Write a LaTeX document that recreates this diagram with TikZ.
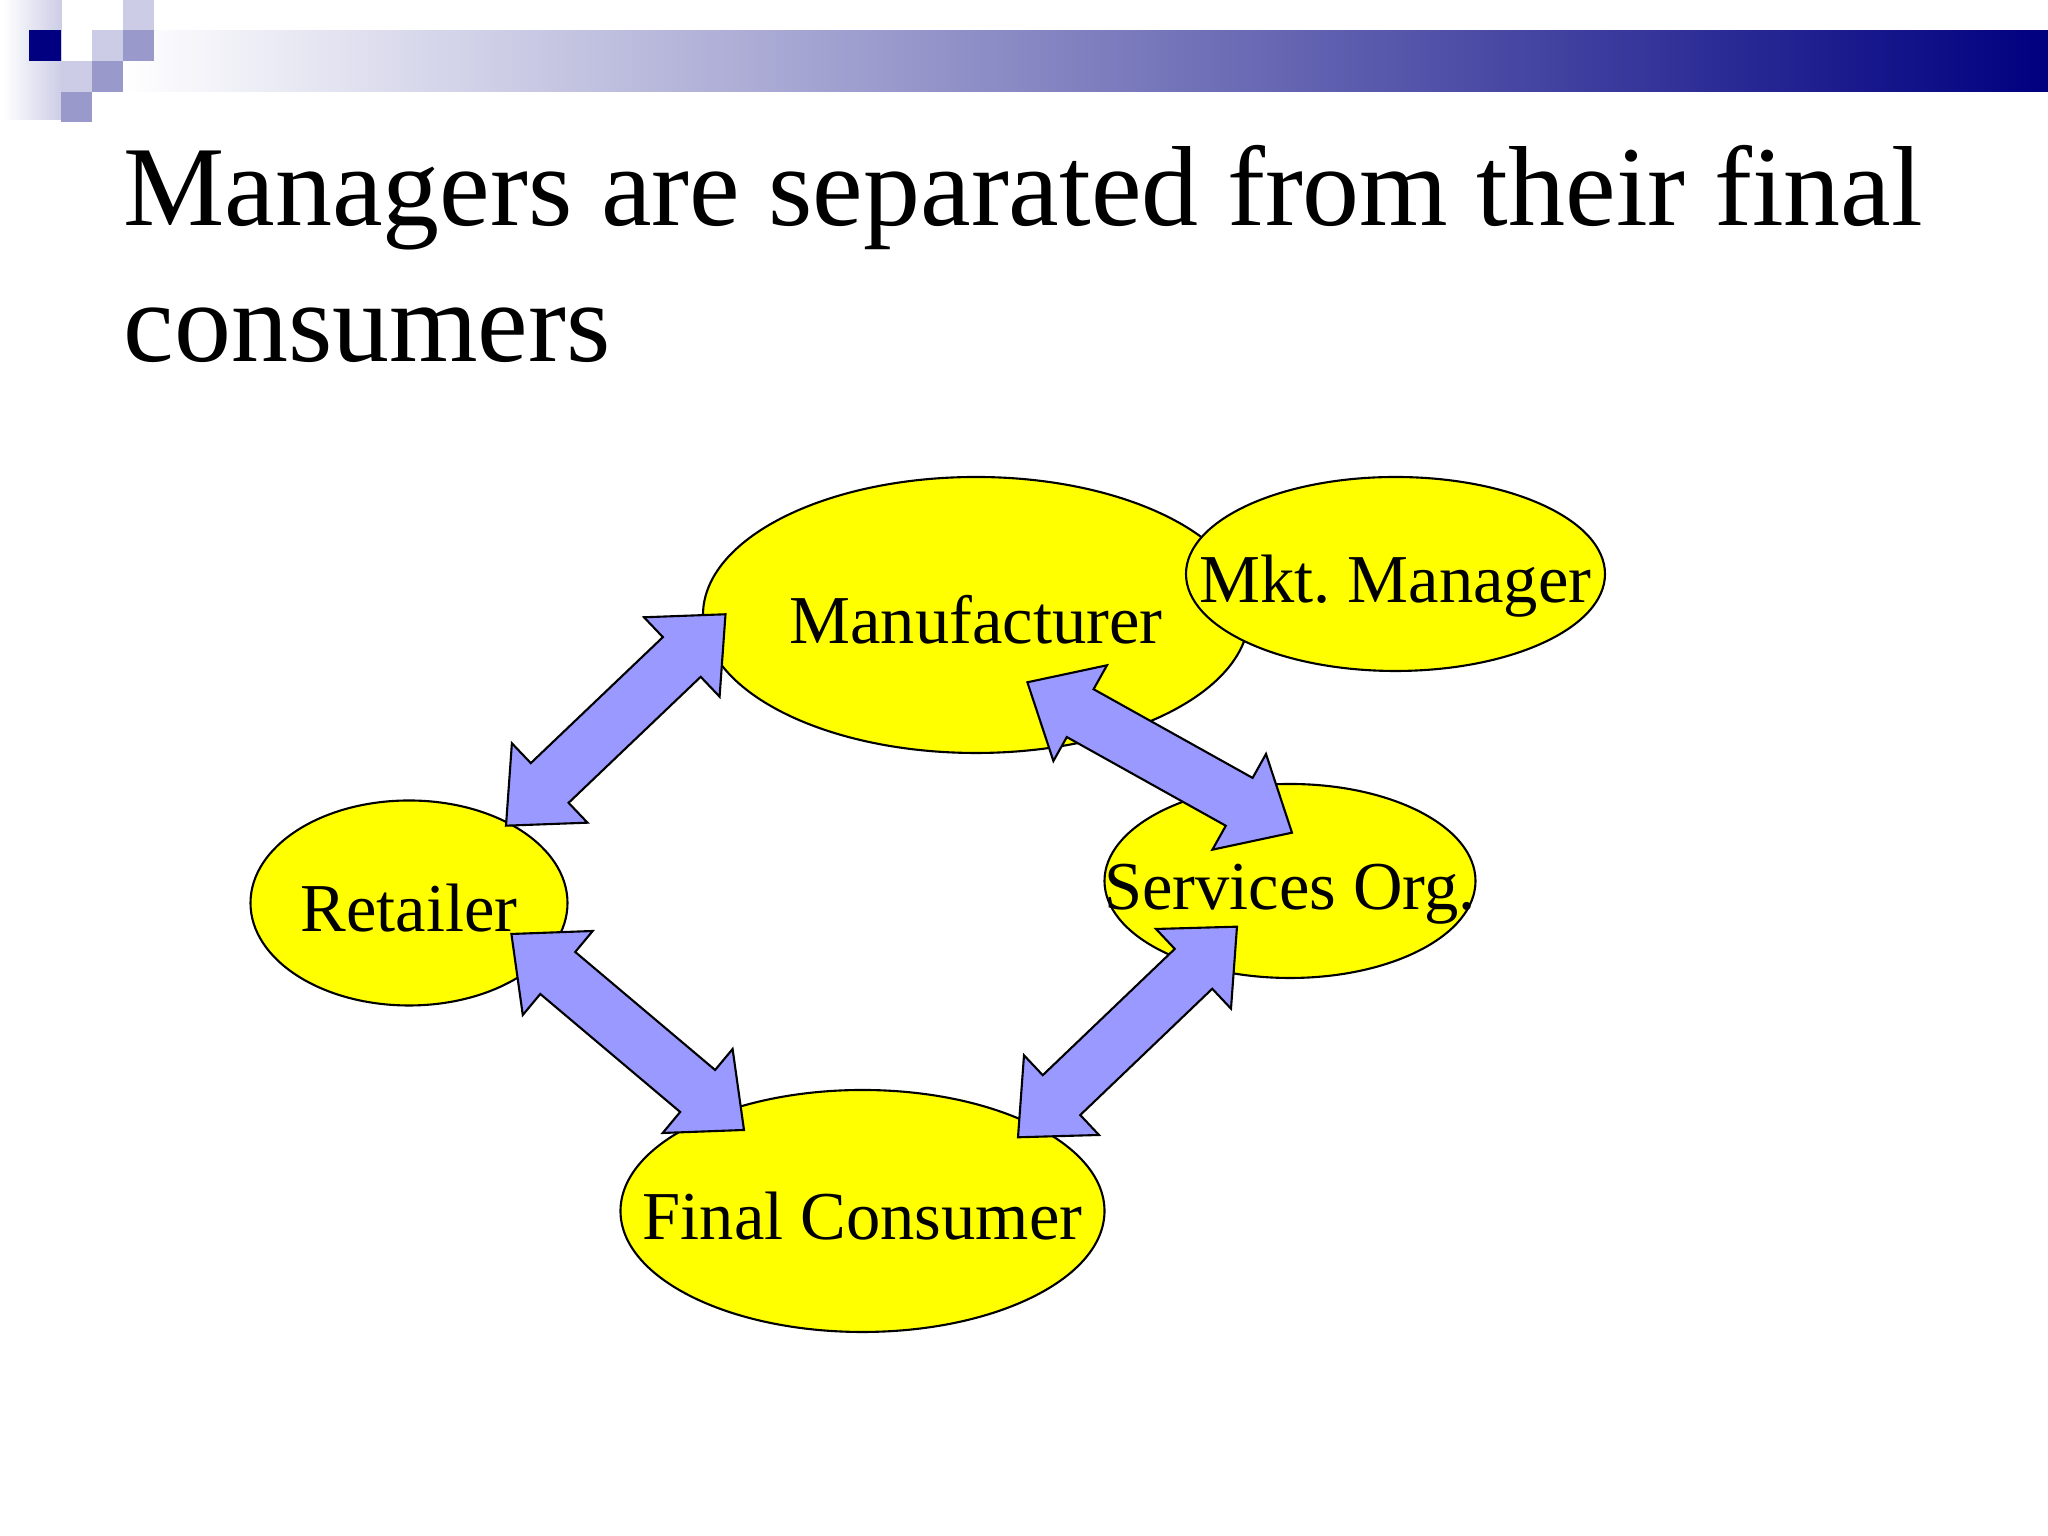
\documentclass[tikz,border=0pt]{standalone}
\usepackage{fontspec}
\setmainfont{Liberation Serif}
\usetikzlibrary{calc, shapes.geometric}

\definecolor{navybar}{HTML}{000080}
\definecolor{lightsq}{HTML}{CCCCE6}
\definecolor{darksq}{HTML}{9999CC}
\definecolor{linkblue}{HTML}{9999FF}
\definecolor{partyyellow}{HTML}{FFFF00}

\tikzset{
  party/.style={draw=black, line width=.6pt, fill=partyyellow, ellipse, inner sep=0pt,
    text height=20.5pt, text depth=4pt, font=\fontsize{19.5}{23}\selectfont},
  dblarrow/.style 2 args={draw=black, line width=.6pt, fill=linkblue,
    to path={-- ($(\tikztostart)+(#1)$)
      -- ($(\tikztostart)+.75*(#1)+.25*(#2)$)
      -- ($(\tikztotarget)-.25*(#1)-.75*(#2)$)
      -- ($(\tikztotarget)-1*(#2)$)
      -- (\tikztotarget)
      -- ($(\tikztotarget)-1*(#1)$)
      -- ($(\tikztotarget)-.75*(#1)-.25*(#2)$)
      -- ($(\tikztostart)+.25*(#1)+.75*(#2)$)
      -- ($(\tikztostart)+(#2)$)
      -- cycle}}
}

\begin{document}
\begin{tikzpicture}
\useasboundingbox (0,0) rectangle (20.48,15.36);

% banner
\shade[left color=white, right color=lightsq] (.03,15.36) rectangle (.62,14.16);
\shade[left color=white, right color=navybar] (1.23,15.05) rectangle (20.48,14.44);
\fill[navybar] (.29,15.06) rectangle (.61,14.75);
\fill[lightsq] (1.23,15.36) rectangle (1.54,15.06);
\fill[lightsq] (.92,15.06) rectangle (1.23,14.75);
\fill[lightsq] (.61,14.75) rectangle (.92,14.44);
\fill[darksq] (1.23,15.06) rectangle (1.54,14.75);
\fill[darksq] (.92,14.75) rectangle (1.23,14.44);
\fill[darksq] (.61,14.44) rectangle (.92,14.14);

\node(title) [anchor=north west, inner sep=0pt, align=left,
  font=\fontsize{32.4}{38.6}\selectfont] at (1.23,13.91)
  {Managers are separated from their final\\consumers};

\node(manufacturer) [party, minimum width=5.46cm, minimum height=2.76cm] at (9.76,9.21) {\makebox[0pt]{Manufacturer}};
\node(manager) [party, minimum width=4.19cm, minimum height=1.94cm] at (13.955,9.62) {\makebox[0pt]{Mkt.\ Manager}};
\node(services) [party, minimum width=3.71cm, minimum height=1.94cm] at (12.9,6.55) {\makebox[0pt]{Services Org.}};
\node(retailer) [party, minimum width=3.17cm, minimum height=2.05cm] at (4.09,6.33) {\makebox[0pt]{Retailer}};
\node(consumer) [party, minimum width=4.84cm, minimum height=2.42cm] at (8.625,3.25) {\makebox[0pt]{Final Consumer}};

\coordinate (m1) at ($(manufacturer)+(-2.505,.007)$);
\coordinate (r1) at ($(retailer)+(.97,.773)$);
\coordinate (m2) at ($(manufacturer)+(.514,-.673)$);
\coordinate (s2) at ($(services)+(.02,.483)$);
\coordinate (r3) at ($(retailer)+(1.024,-.31)$);
\coordinate (c3) at ($(consumer)+(-1.185,.81)$);
\coordinate (s4) at ($(services)+(-.53,-.457)$);
\coordinate (c4) at ($(consumer)+(1.555,.737)$);

\draw[dblarrow={-.815,-.03}{-.059,-.824}] (m1) to (r1);
\draw[dblarrow={.796,.17}{.26,-.787}] (m2) to (s2);
\draw[dblarrow={.813,.03}{.114,-.81}] (r3) to (c3);
\draw[dblarrow={-.81,-.023}{-.06,-.82}] (s4) to (c4);
\end{tikzpicture}
\end{document}
